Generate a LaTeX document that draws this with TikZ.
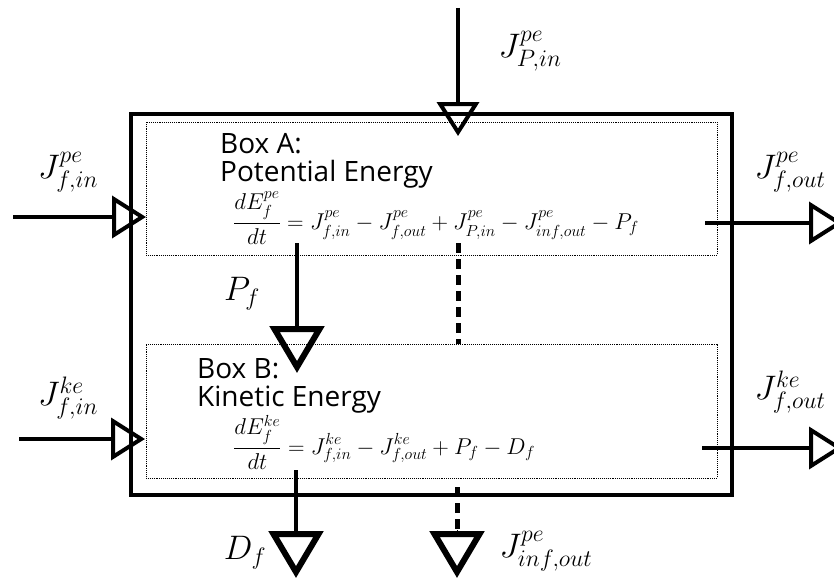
\RequirePackage{fix-cm}
\documentclass[tikz,border=0pt]{standalone}
\usepackage{amsmath}
\usepackage{fontspec}
\setmainfont{Open Sans}
\usetikzlibrary{arrows.meta, positioning}

\tikzset{
  sysbox/.style={draw, line width=4pt, inner sep=0pt},
  subbox/.style={draw, densely dotted, line width=0.9pt, inner sep=0pt},
  boxtitle/.style={font=\fontsize{28}{28}\selectfont, align=left, inner sep=0pt},
  balance/.style={font=\fontsize{22.9}{26}\selectfont, inner sep=0pt},
  flowlbl/.style={font=\fontsize{34}{38}\selectfont, inner sep=0pt},
  flow/.style={line width=3.5pt, -{Triangle[open, length=34pt, width=42pt, line width=4pt]}},
  bigflow/.style={line width=4pt, -{Triangle[open, length=47pt, width=54pt, line width=6pt]}},
  leak/.style={line width=5pt, dash pattern=on 10pt off 6pt},
}

\begin{document}
\begin{tikzpicture}[x=1pt, y=-1pt]
\useasboundingbox (0,0) rectangle (834,578);

% System and the two energy boxes
\node[sysbox, minimum width=601pt, minimum height=381pt] (sys) at (431.5,304.5) {};
\node[subbox, minimum width=571pt, minimum height=133pt] (boxA) at (431.5,188.5) {};
\node[subbox, minimum width=571pt, minimum height=134pt] (boxB) at (431.5,411) {};

\node[boxtitle, anchor=north west] (titleA) at (220,133) {Box A:\\Potential Energy};
\node[boxtitle, anchor=north west] (titleB) at (197,358) {Box B:\\Kinetic Energy};

\node[balance, anchor=base west] (eqA) at (233,229)
  {$\displaystyle\frac{dE^{pe}_f}{dt} = J^{pe}_{f,in} - J^{pe}_{f,out} + J^{pe}_{P,in} - J^{pe}_{inf,out} - P_f$};
\node[balance, anchor=base west] (eqB) at (233,454)
  {$\displaystyle\frac{dE^{ke}_f}{dt} = J^{ke}_{f,in} - J^{ke}_{f,out} + P_f - D_f$};

% Flow end points
\coordinate (pinTop) at (458,8);
\coordinate (pinEnd) at (458,136);
\coordinate (fpeIn) at (13,217);
\coordinate (fpeInEnd) at (146,217);
\coordinate (fpeOut) at (705,223);
\coordinate (fpeOutEnd) at (843,223);
\coordinate (fkeIn) at (19,439);
\coordinate (fkeInEnd) at (145,439);
\coordinate (fkeOut) at (702,448);
\coordinate (fkeOutEnd) at (843,448);
\coordinate (pfTop) at (297,243);
\coordinate (pfEnd) at (297,373);
\coordinate (linkTop) at (458,243);
\coordinate (linkEnd) at (458,344);
\coordinate (dfTop) at (296,470);
\coordinate (dfEnd) at (296,578);
\coordinate (infTop) at (457,487);
\coordinate (infMid) at (457,530);
\coordinate (infEnd) at (457,578);

% Flows
\draw[flow] (pinTop) -- (pinEnd);
\draw[flow] (fpeIn) -- (fpeInEnd);
\draw[flow] (fpeOut) -- (fpeOutEnd);
\draw[flow] (fkeIn) -- (fkeInEnd);
\draw[flow] (fkeOut) -- (fkeOutEnd);
\draw[bigflow] (pfTop) -- (pfEnd);
\draw[bigflow] (dfTop) -- (dfEnd);
\draw[leak] (linkTop) -- (linkEnd);
\draw[leak] (infTop) -- (infMid);
\draw[bigflow, line width=0pt] (infMid) -- (infEnd);

% Flow labels
\node[flowlbl] (lblPin) at (530,51) {$J^{pe}_{P,in}$};
\node[flowlbl] (lblFpeIn) at (68,172) {$J^{pe}_{f,in}$};
\node[flowlbl] (lblFpeOut) at (790,172) {$J^{pe}_{f,out}$};
\node[flowlbl] (lblFkeIn) at (68,398) {$J^{ke}_{f,in}$};
\node[flowlbl] (lblFkeOut) at (790,392) {$J^{ke}_{f,out}$};
\node[flowlbl] (lblPf) at (242,294) {$P_f$};
\node[flowlbl] (lblDf) at (245,553) {$D_f$};
\node[flowlbl] (lblInf) at (546,551) {$J^{pe}_{inf,out}$};

\end{tikzpicture}
\end{document}
